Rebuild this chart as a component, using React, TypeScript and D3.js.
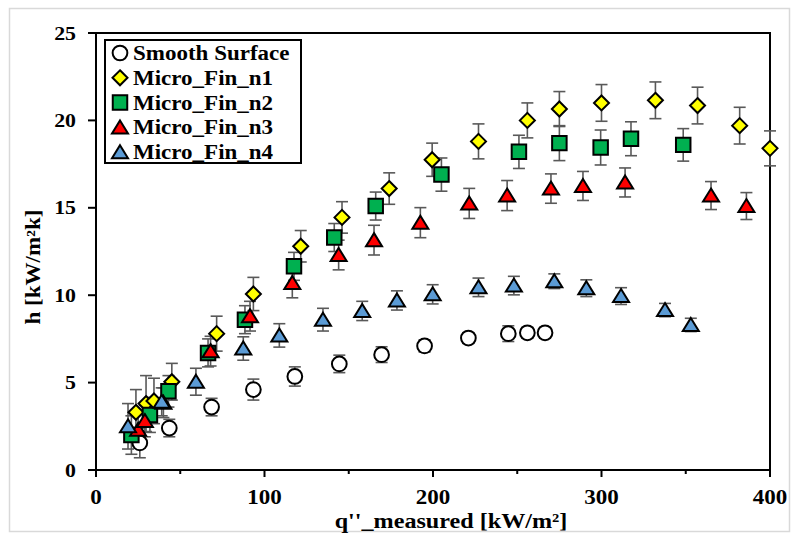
import React from "react";
import * as d3 from "d3";

const W = 792;
const H = 533;
const MARGIN = { top: 33, right: 22, bottom: 63, left: 96 };

// Smooth Surface (open circles)
const smoothX = [26, 43.5, 68.6, 93.4, 118, 144.4, 169.5, 195, 221, 244.7, 256, 266.5];
const smoothH = [1.55, 2.4, 3.6, 4.6, 5.35, 6.07, 6.6, 7.1, 7.55, 7.8, 7.85, 7.85];
const smoothErr = [0.85, 0.5, 0.5, 0.6, 0.55, 0.5, 0.45, 0.35, 0.3, 0.45, 0.3, 0.3];

// Micro_Fin_n1 (yellow diamonds)
const n1X = [23.7, 29.7, 34.4, 45, 71.6, 93.4, 121.5, 146, 174, 199.5, 227, 256, 275, 300, 332, 357, 382, 400];
const n1H = [3.3, 3.8, 3.95, 5.05, 7.8, 10.07, 12.8, 14.45, 16.1, 17.75, 18.8, 20.0, 20.65, 21.0, 21.15, 20.85, 19.7, 18.4];
const n1Err = [1.3, 1.6, 1.3, 1.05, 1.0, 0.95, 0.9, 0.9, 0.9, 0.95, 1.0, 1.0, 1.0, 1.05, 1.05, 1.05, 1.05, 1.0];

// Micro_Fin_n2 (green squares)
const n2X = [21, 32, 43, 66.5, 88.4, 117.5, 141.4, 166, 205, 251, 275, 299.5, 317.5, 348.5];
const n2H = [2.0, 3.15, 4.5, 6.7, 8.6, 11.65, 13.3, 15.1, 16.9, 18.2, 18.7, 18.45, 18.95, 18.6];
const n2Err = [1.1, 1.0, 0.9, 0.8, 0.8, 0.8, 0.8, 0.8, 0.95, 0.95, 1.0, 1.0, 0.97, 0.93];

// Micro_Fin_n3 (red triangles)
const n3X = [25, 29, 40, 68, 91.4, 116.5, 144, 165, 192.5, 221.5, 244, 270, 289, 314, 365, 386];
const n3H = [2.3, 2.8, 3.85, 6.8, 8.8, 10.7, 12.3, 13.15, 14.15, 15.25, 15.7, 16.1, 16.25, 16.45, 15.7, 15.1];
const n3Err = [0.9, 0.9, 0.85, 0.85, 0.85, 0.85, 0.85, 0.85, 0.86, 0.86, 0.86, 0.84, 0.83, 0.83, 0.8, 0.77];

// Micro_Fin_n4 (blue triangles)
const n4X = [19, 39, 59.3, 87.4, 108.8, 134.7, 158, 178.6, 199.8, 227, 248, 272, 291, 311.6, 337.7, 353];
const n4H = [2.5, 3.9, 5.05, 6.95, 7.7, 8.6, 9.1, 9.7, 10.05, 10.45, 10.55, 10.8, 10.4, 9.95, 9.15, 8.3];
const n4Err = [1.3, 0.8, 0.77, 0.67, 0.67, 0.65, 0.55, 0.55, 0.55, 0.53, 0.53, 0.42, 0.48, 0.48, 0.38, 0.38];

const X_TICKS = [0, 100, 200, 300, 400];
const X_MINOR = [50, 150, 250, 350];
const Y_TICKS = [0, 5, 10, 15, 20, 25];

type Shape = "circle" | "diamond" | "square" | "triangle";

const SERIES: { name: string; xs: number[]; ys: number[]; err: number[]; shape: Shape; fill: string }[] = [
  { name: "Smooth Surface", xs: smoothX, ys: smoothH, err: smoothErr, shape: "circle", fill: "#FFFFFF" },
  { name: "Micro_Fin_n1", xs: n1X, ys: n1H, err: n1Err, shape: "diamond", fill: "#FFFF00" },
  { name: "Micro_Fin_n2", xs: n2X, ys: n2H, err: n2Err, shape: "square", fill: "#00B050" },
  { name: "Micro_Fin_n3", xs: n3X, ys: n3H, err: n3Err, shape: "triangle", fill: "#FF0000" },
  { name: "Micro_Fin_n4", xs: n4X, ys: n4H, err: n4Err, shape: "triangle", fill: "#5B9BD5" },
];

const FONT = "'Liberation Serif', 'Times New Roman', serif";
const STRETCH = 1.15;

const markerPath = (shape: Shape) => {
  if (shape === "circle") return d3.symbol(d3.symbolCircle, 170)()!;
  if (shape === "square") return d3.symbol(d3.symbolSquare, 210)()!;
  if (shape === "diamond") {
    const p = d3.path();
    p.moveTo(0, -7.5);
    p.lineTo(7.5, 0);
    p.lineTo(0, 7.5);
    p.lineTo(-7.5, 0);
    p.closePath();
    return p.toString();
  }
  const p = d3.path();
  p.moveTo(0, -7);
  p.lineTo(8, 6);
  p.lineTo(-8, 6);
  p.closePath();
  return p.toString();
};

const Marker = ({ x, y, shape, fill }: { x: number; y: number; shape: Shape; fill: string }) => (
  <path
    d={markerPath(shape)}
    transform={`translate(${x},${y})`}
    fill={fill}
    stroke="#000"
    strokeWidth={2}
    strokeLinejoin="miter"
  />
);

const Label = ({ x, y, anchor, size, children, rotate = 0 }: any) => (
  <g transform={`translate(${x},${y}) rotate(${rotate}) scale(${STRETCH},1)`}>
    <text x={0} y={0} textAnchor={anchor} fontFamily={FONT} fontWeight="bold" fontSize={size} fill="#000">
      {children}
    </text>
  </g>
);

const App = () => {
  const x0 = MARGIN.left;
  const x1 = W - MARGIN.right;
  const y0 = H - MARGIN.bottom;
  const y1 = MARGIN.top;

  const xScale = d3.scaleLinear().domain([0, 400]).range([x0, x1]);
  const yScale = d3.scaleLinear().domain([0, 25]).range([y0, y1]);

  const legendX = 105;
  const legendY = 40;

  return (
    <svg width={W} height={H} style={{ position: "absolute", left: 0, top: 0, background: "#fff" }}>
      <rect x={9.5} y={8.5} width={W - 12} height={H - 10} fill="#fff" stroke="#d9d9d9" strokeWidth={1.5} />

      {/* plot frame */}
      <rect x={x0} y={y1} width={x1 - x0} height={y0 - y1} fill="none" stroke="#000" strokeWidth={2} />

      {/* y ticks + labels */}
      {Y_TICKS.map((t) => (
        <g key={`y${t}`}>
          <line x1={x0 - 8} x2={x0} y1={yScale(t)} y2={yScale(t)} stroke="#000" strokeWidth={2} />
          <Label x={76} y={yScale(t) + 6.5} anchor="end" size={19}>
            {t}
          </Label>
        </g>
      ))}

      {/* x ticks + labels */}
      {X_MINOR.map((t) => (
        <line key={`xm${t}`} x1={xScale(t)} x2={xScale(t)} y1={y0} y2={y0 + 4} stroke="#000" strokeWidth={2} />
      ))}
      {X_TICKS.map((t) => (
        <g key={`x${t}`}>
          <line x1={xScale(t)} x2={xScale(t)} y1={y0} y2={y0 + 7} stroke="#000" strokeWidth={2} />
          <Label x={xScale(t)} y={504} anchor="middle" size={20}>
            {t}
          </Label>
        </g>
      ))}

      {/* axis titles */}
      <Label x={451} y={528} anchor="middle" size={21}>
        q''_measured [kW/m²]
      </Label>
      <Label x={40} y={267} anchor="middle" size={20} rotate={-90}>
        h [kW/m²k]
      </Label>

      {/* error bars */}
      {SERIES.map((s) =>
        s.xs.map((xv, i) => {
          const cx = xScale(xv);
          const top = yScale(s.ys[i] + s.err[i]);
          const bot = yScale(s.ys[i] - s.err[i]);
          return (
            <g key={`${s.name}e${i}`} stroke="#595959" strokeWidth={1.6}>
              <line x1={cx} x2={cx} y1={top} y2={bot} />
              <line x1={cx - 6} x2={cx + 6} y1={top} y2={top} />
              <line x1={cx - 6} x2={cx + 6} y1={bot} y2={bot} />
            </g>
          );
        })
      )}

      {/* markers */}
      {SERIES.map((s) =>
        s.xs.map((xv, i) => (
          <Marker key={`${s.name}m${i}`} x={xScale(xv)} y={yScale(s.ys[i])} shape={s.shape} fill={s.fill} />
        ))
      )}

      {/* legend */}
      <rect x={legendX} y={legendY} width={196} height={123} fill="#fff" stroke="#000" strokeWidth={2} />
      {SERIES.map((s, i) => {
        const cy = legendY + 13 + i * 24.8;
        return (
          <g key={`lg${i}`}>
            <Marker x={120} y={cy} shape={s.shape} fill={s.fill} />
            <Label x={133} y={cy + 7} anchor="start" size={20}>
              {s.name}
            </Label>
          </g>
        );
      })}
    </svg>
  );
};

export default App;
